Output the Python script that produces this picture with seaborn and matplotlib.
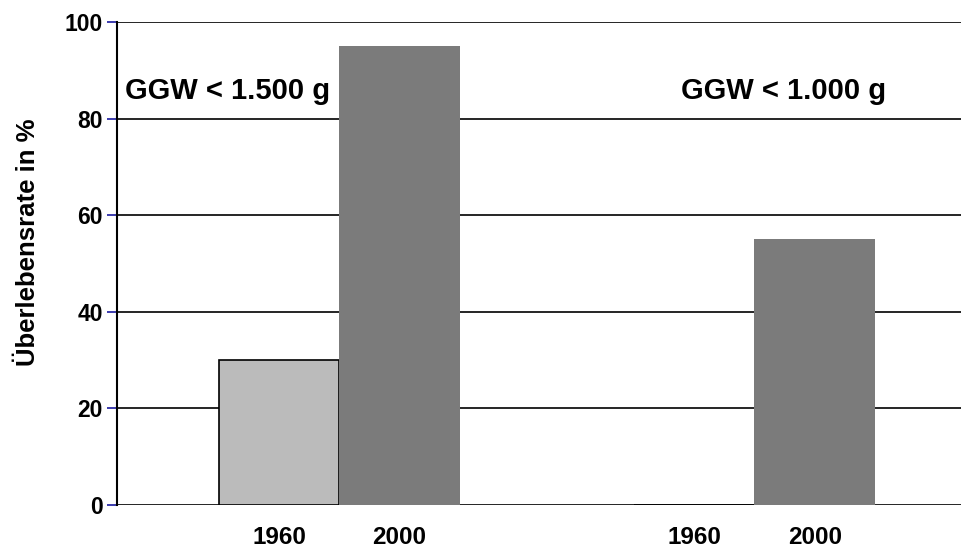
import matplotlib
matplotlib.use("Agg")
import matplotlib.pyplot as plt
import seaborn as sns
import pandas as pd

groups = ["GGW < 1.500 g", "GGW < 1.000 g"]
years = ["1960", "2000"]
val_1960 = [30, 0]
val_2000 = [95, 55]
y_ticks = [0, 20, 40, 60, 80, 100]

df = pd.DataFrame({
    "group": groups * 2,
    "year": [years[0]] * 2 + [years[1]] * 2,
    "value": val_1960 + val_2000,
})

sns.set_style("white")
plt.rcParams["font.family"] = ["Liberation Sans", "DejaVu Sans"]
plt.rcParams["font.weight"] = "bold"
plt.rcParams["text.color"] = "black"
plt.rcParams["xtick.color"] = "black"
plt.rcParams["ytick.color"] = "black"
plt.rcParams["axes.labelcolor"] = "black"

fig = plt.figure(figsize=(9.62, 5.51), dpi=100)
ax = fig.add_axes([0.1216, 0.0835, 0.8784, 0.8765])

sns.barplot(data=df, x="group", y="value", hue="year", order=groups, hue_order=years,
            palette=["#BBBBBB", "#7B7B7B"], width=0.58, gap=0, ax=ax, legend=False,
            saturation=1, zorder=3)

light = ax.containers[0]
dark = ax.containers[1]
for p in light:
    p.set_edgecolor("black")
    p.set_linewidth(1.2)
for p in dark:
    p.set_edgecolor("none")
    p.set_linewidth(0)

ax.set_ylim(0, 100)
ax.set_xlim(-0.536, 1.5)
ax.set_yticks(y_ticks)
ax.set_yticklabels([str(t) for t in y_ticks], fontsize=16.5, fontweight="bold", color="black")
for t in y_ticks:
    ax.axhline(t, color="black", lw=1.2, zorder=1)

pos, labs = [], []
for cont, yr in zip([light, dark], years):
    for p in cont:
        pos.append(p.get_x() + p.get_width() / 2)
        labs.append(yr)
ax.set_xticks(pos)
ax.set_xticklabels(labs, fontsize=17.5, fontweight="bold", color="black")
ax.tick_params(axis="x", length=0, pad=15)
ax.tick_params(axis="y", length=7, width=1.2, color="#1a1aa0", labelcolor="black", pad=3, left=True)

for s in ["top", "right", "bottom"]:
    ax.spines[s].set_visible(False)
ax.spines["left"].set_color("black")
ax.spines["left"].set_linewidth(1.5)
ax.spines["left"].set_zorder(4)

ax.set_xlabel("")
ax.set_ylabel("Überlebensrate in %", fontsize=18.5, fontweight="bold", color="black")
ax.yaxis.set_label_coords(-0.091, 0.545)

ax.text(0.009, 0.857, groups[0], transform=ax.transAxes, fontsize=21, fontweight="bold",
        va="center", ha="left", zorder=5, color="black")
ax.text(0.668, 0.857, groups[1], transform=ax.transAxes, fontsize=21, fontweight="bold",
        va="center", ha="left", zorder=5, color="black")

fig.savefig("out.png", dpi=100)
